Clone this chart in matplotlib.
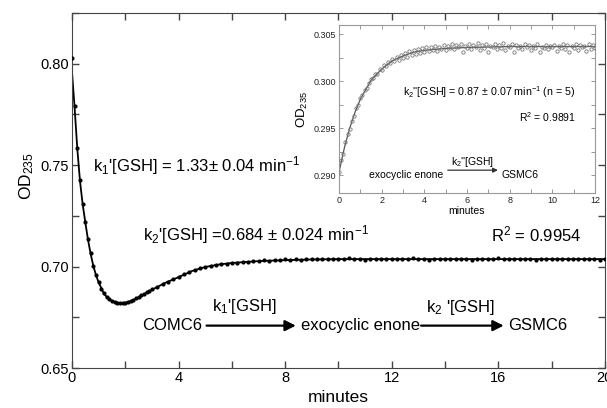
import numpy as np
import matplotlib.pyplot as plt
from matplotlib.ticker import MultipleLocator

plt.rcParams['font.family'] = ['Liberation Sans', 'DejaVu Sans']
plt.rcParams['mathtext.fontset'] = 'custom'
plt.rcParams['mathtext.rm'] = 'Liberation Sans'
plt.rcParams['mathtext.it'] = 'Liberation Sans:italic'

# COMC6 + GSH, absorbance at 235 nm
t_early = [0.0, 0.1, 0.2, 0.3, 0.4, 0.5, 0.6, 0.7, 0.8, 0.9,
           1.0, 1.1, 1.2, 1.3, 1.4, 1.5, 1.6, 1.7, 1.8, 1.9,
           2.0, 2.1, 2.2, 2.3, 2.4, 2.5, 2.6, 2.7, 2.8, 2.9, 3.0]
od_early = [0.8030, 0.7790, 0.7585, 0.7425, 0.7310, 0.7220, 0.7135, 0.7065, 0.7005, 0.6960,
            0.6925, 0.6892, 0.6868, 0.6850, 0.6838, 0.6830, 0.6826, 0.6822, 0.6820, 0.6821,
            0.6823, 0.6826, 0.6831, 0.6837, 0.6845, 0.6851, 0.6859, 0.6867, 0.6874, 0.6882, 0.6889]
t_late = list(np.round(np.arange(3.2, 20.01, 0.2), 2))
od_late = [0.6900, 0.6913, 0.6926, 0.6938, 0.6950, 0.6962, 0.6973, 0.6983, 0.6992, 0.6999,
           0.7005, 0.7008, 0.7013, 0.7014, 0.7019, 0.7020, 0.7023, 0.7025, 0.7027, 0.7029,
           0.7031, 0.7030, 0.7034, 0.7032, 0.7035, 0.7033, 0.7036, 0.7034, 0.7037, 0.7035,
           0.7038, 0.7035, 0.7039, 0.7036, 0.7038, 0.7035, 0.7040, 0.7036, 0.7038, 0.7034,
           0.7039, 0.7036, 0.7038, 0.7035, 0.7039, 0.7037, 0.7038, 0.7035, 0.7040, 0.7036,
           0.7038, 0.7034, 0.7039, 0.7036, 0.7038, 0.7035, 0.7039, 0.7037, 0.7038, 0.7034,
           0.7039, 0.7036, 0.7038, 0.7035, 0.7040, 0.7036, 0.7038, 0.7035, 0.7039, 0.7036,
           0.7038, 0.7034, 0.7039, 0.7036, 0.7038, 0.7035, 0.7039, 0.7037, 0.7038, 0.7035,
           0.7039, 0.7036, 0.7038, 0.7034, 0.7038]
t_main = t_early + t_late
od_main = od_early + od_late

# biexponential fit curve
t_fit = [0.0, 0.1, 0.2, 0.3, 0.4, 0.5, 0.6, 0.7, 0.8, 0.9, 1.0, 1.2, 1.4, 1.6, 1.8,
         2.0, 2.3, 2.6, 3.0, 3.5, 4.0, 4.5, 5.0, 5.5, 6.0, 7.0, 8.0, 9.0, 10.0, 20.0]
od_fit = [0.7960, 0.7780, 0.7580, 0.7422, 0.7308, 0.7218, 0.7133, 0.7063, 0.7004, 0.6958,
          0.6922, 0.6866, 0.6837, 0.6825, 0.6820, 0.6822, 0.6834, 0.6857, 0.6886, 0.6920,
          0.6948, 0.6978, 0.6998, 0.7010, 0.7018, 0.7027, 0.7032, 0.7035, 0.7037, 0.7037]

# exocyclic enone + GSH (inset)
t_ins = list(np.round(np.arange(0, 12.01, 0.1), 1))
od_ins = [0.2903, 0.2916, 0.2923, 0.2935, 0.2944, 0.2949, 0.2958, 0.2963, 0.2972, 0.2975,
          0.2982, 0.2985, 0.2991, 0.2993, 0.2998, 0.3002, 0.3003, 0.3008, 0.3008, 0.3013,
          0.3012, 0.3017, 0.3016, 0.3021, 0.3019, 0.3024, 0.3022, 0.3026, 0.3023, 0.3028,
          0.3025, 0.3030, 0.3026, 0.3032, 0.3028, 0.3033, 0.3029, 0.3034, 0.3030, 0.3035,
          0.3031, 0.3036, 0.3032, 0.3037, 0.3033, 0.3038, 0.3032, 0.3037, 0.3034, 0.3039,
          0.3033, 0.3038, 0.3035, 0.3040, 0.3034, 0.3039, 0.3036, 0.3040, 0.3031, 0.3038,
          0.3035, 0.3040, 0.3034, 0.3039, 0.3036, 0.3041, 0.3033, 0.3039, 0.3035, 0.3040,
          0.3031, 0.3038, 0.3036, 0.3040, 0.3034, 0.3039, 0.3035, 0.3041, 0.3033, 0.3038,
          0.3036, 0.3040, 0.3031, 0.3039, 0.3035, 0.3038, 0.3034, 0.3040, 0.3036, 0.3039,
          0.3033, 0.3038, 0.3035, 0.3040, 0.3031, 0.3037, 0.3035, 0.3039, 0.3034, 0.3038,
          0.3036, 0.3039, 0.3032, 0.3038, 0.3035, 0.3040, 0.3034, 0.3039, 0.3031, 0.3038,
          0.3035, 0.3040, 0.3033, 0.3039, 0.3036, 0.3038, 0.3032, 0.3040, 0.3034, 0.3039,
          0.3035]
t_ins_fit = [0.0, 0.25, 0.5, 0.75, 1.0, 1.25, 1.5, 1.75, 2.0, 2.5, 3.0, 3.5, 4.0, 5.0, 6.0, 8.0, 12.0]
od_ins_fit = [0.2903, 0.2929, 0.2950, 0.2967, 0.2981, 0.2991, 0.3001, 0.3007, 0.3013,
              0.3022, 0.3027, 0.3031, 0.3033, 0.3035, 0.3036, 0.3037, 0.3037]

fig = plt.figure(figsize=(6.07, 4.08), dpi=100)
ax = fig.add_axes([0.1186, 0.098, 0.878, 0.870])

ax.plot(t_fit, od_fit, color='black', lw=1.3, zorder=2)
ax.plot(t_main, od_main, 'o', color='black', ms=2.0, zorder=3)

ax.set_xlim(0, 20)
ax.set_ylim(0.65, 0.825)
ax.xaxis.set_major_locator(MultipleLocator(4))
ax.xaxis.set_minor_locator(MultipleLocator(2))
ax.yaxis.set_major_locator(MultipleLocator(0.05))
ax.yaxis.set_minor_locator(MultipleLocator(0.025))
ax.yaxis.set_major_formatter(plt.FuncFormatter(lambda v, p: f'{v:.2f}'))
ax.tick_params(which='both', direction='in', top=True, right=True, length=5,
               width=1, color='#444444', labelsize=10.5, pad=2)
for s in ax.spines.values():
    s.set_color('#444444')
ax.set_xlabel('minutes', fontsize=12.5, labelpad=4)
ax.set_ylabel('OD$_{235}$', fontsize=12.5)
ax.yaxis.set_label_coords(-0.068, 0.54)

fs = 12
ax.text(0.78, 0.750, "k$_1$'[GSH] = 1.33$\\pm$ 0.04 min$^{-1}$", fontsize=fs, va='center')
ax.text(2.65, 0.7158, "k$_2$'[GSH] =0.684 $\\pm$ 0.024 min$^{-1}$", fontsize=fs, va='center')
ax.text(15.74, 0.7158, "R$^2$ = 0.9954", fontsize=fs, va='center')

ax.text(2.62, 0.6709, "COMC6", fontsize=fs, va='center')
ax.annotate('', xy=(8.4, 0.6709), xytext=(5.05, 0.6709),
            arrowprops=dict(arrowstyle='-|>', color='black', lw=1.6, mutation_scale=16,
                            shrinkA=0, shrinkB=0))
ax.text(5.27, 0.6805, "k$_1$'[GSH]", fontsize=fs, va='center')
ax.text(8.6, 0.6709, "exocyclic enone", fontsize=fs, va='center')
ax.annotate('', xy=(16.2, 0.6709), xytext=(13.1, 0.6709),
            arrowprops=dict(arrowstyle='-|>', color='black', lw=1.6, mutation_scale=16,
                            shrinkA=0, shrinkB=0))
ax.text(13.27, 0.6800, "k$_2$ '[GSH]", fontsize=fs, va='center')
ax.text(16.37, 0.6709, "GSMC6", fontsize=fs, va='center')

# inset
ins = fig.add_axes([0.5585, 0.527, 0.4217, 0.4118])
ins.plot(t_ins_fit, od_ins_fit, color='#555555', lw=0.9, zorder=2)
ins.plot(t_ins, od_ins, 'o', mfc='none', mec='#777777', mew=0.6, ms=2.4, zorder=3)
ins.set_xlim(0, 12)
ins.set_ylim(0.2881, 0.3060)
ins.xaxis.set_major_locator(MultipleLocator(2))
ins.xaxis.set_minor_locator(MultipleLocator(1))
ins.yaxis.set_major_locator(MultipleLocator(0.005))
ins.yaxis.set_minor_locator(MultipleLocator(0.0025))
ins.yaxis.set_major_formatter(plt.FuncFormatter(lambda v, p: f'{v:.3f}'))
ins.tick_params(which='both', direction='in', top=True, right=True, length=3,
                width=0.6, color='#888888', labelsize=6.5, pad=2, labelcolor='#222222')
for s in ins.spines.values():
    s.set_color('#999999')
    s.set_linewidth(0.8)
ins.set_xlabel('minutes', fontsize=7.5, labelpad=1)
ins.set_ylabel('OD$_{235}$', fontsize=9.5, labelpad=3)

ins.text(3.0, 0.29883, "k$_2$''[GSH] = 0.87 $\\pm$ 0.07 min$^{-1}$ (n = 5)", fontsize=7.7,
         va='center')
ins.text(8.45, 0.29617, "R$^2$ = 0.9891", fontsize=7.5, va='center')
ins.text(1.41, 0.2900, "exocyclic enone", fontsize=7.5, va='center')
ins.annotate('', xy=(7.45, 0.29053), xytext=(5.1, 0.29053),
             arrowprops=dict(arrowstyle='-|>', color='#333333', lw=0.9, mutation_scale=7,
                             shrinkA=0, shrinkB=0))
ins.text(5.25, 0.29138, "k$_2$''[GSH]", fontsize=7.5, va='center')
ins.text(7.6, 0.2900, "GSMC6", fontsize=7.5, va='center')

fig.savefig('out.png', dpi=100)
